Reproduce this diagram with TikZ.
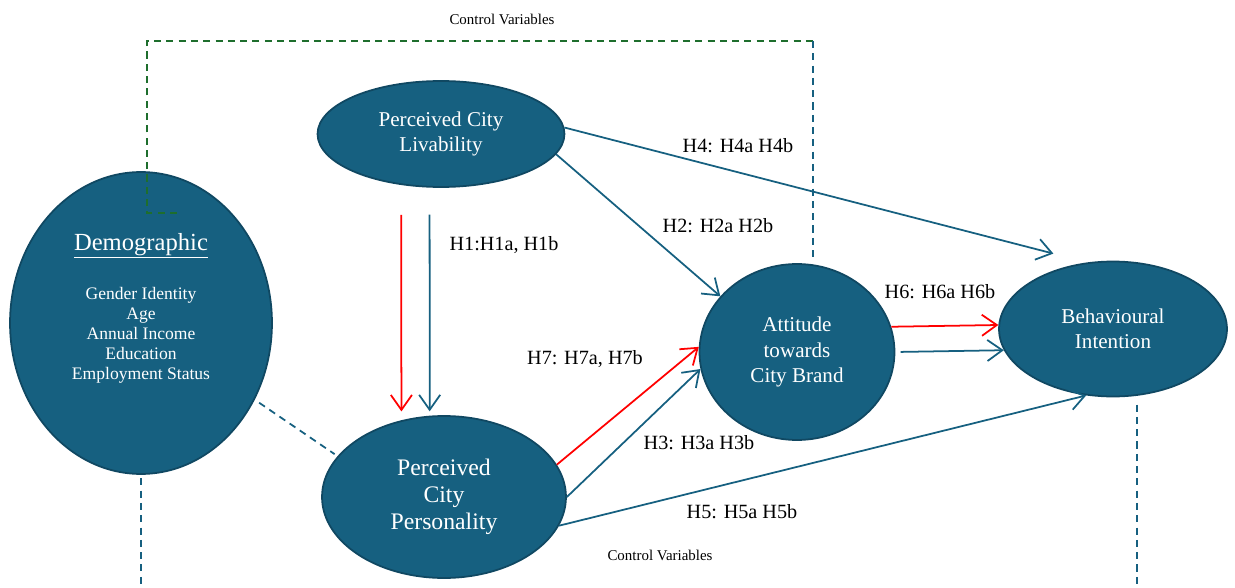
\documentclass[tikz,border=0pt]{standalone}
\usepackage{fontspec}
\setmainfont{Liberation Serif}
\usetikzlibrary{arrows.meta,shapes.geometric}
\definecolor{cityblue}{RGB}{22,96,128}
\definecolor{cityedge}{RGB}{16,72,98}
\definecolor{ctrlgreen}{RGB}{30,110,45}
\tikzset{
    construct/.style={ellipse, fill=cityblue, draw=cityedge, line width=1pt, text=white, align=center, inner sep=0pt, font=\fontsize{12}{14.5}\selectfont},
    hyp/.style={draw=cityblue, line width=1pt, -{Straight Barb[length=8.5pt,width=12pt]}},
    hypr/.style={hyp, draw=red},
    hyplabel/.style={font=\fontsize{11.5}{13}\selectfont},
    ctrllabel/.style={font=\fontsize{8.5}{10}\selectfont},
    dashblue/.style={draw=cityblue, line width=1pt, dash pattern=on 4pt off 3pt},
    dashgreen/.style={dashblue, draw=ctrlgreen}
}
\begin{document}
\begin{tikzpicture}[x=0.02cm, y=-0.02cm]
                \useasboundingbox (0,0) rectangle (1235,588);
                \node[construct, minimum width=4.94cm, minimum height=2.12cm] (liv) at (441,134) {Perceived City\\Livability};
                \node[construct, minimum width=5.24cm, minimum height=6.04cm] (dem) at (141,323) {};
                \node[text=white, align=center, inner sep=0pt, font=\fontsize{10}{11.3}\selectfont] (demtext) at (141,308) {{\fontsize{14}{16}\selectfont\underline{Demographic}}\\[15.4pt] Gender Identity\\Age\\Annual Income\\Education\\Employment Status};
                \node[construct, minimum width=4.88cm, minimum height=3.24cm, font=\fontsize{13.5}{15.5}\selectfont] (per) at (444,497) {Perceived\\City\\Personality};
                \node[construct, minimum width=3.9cm, minimum height=3.52cm] (att) at (797,352) {Attitude\\towards\\City Brand};
                \node[construct, minimum width=4.56cm, minimum height=2.7cm] (beh) at (1113,329) {Behavioural\\Intention};
                \node[ctrllabel] (cvtop) at (502,19) {Control Variables};
                \node[ctrllabel] (cvbot) at (660,555) {Control Variables};
                \coordinate (gstart) at (177,213);
                \coordinate (gcorner) at (147,41);
                \coordinate (gend) at (813,41);
                \coordinate (bend) at (813,258);
                \coordinate (bottom) at (0,588);
                \draw[dashgreen] (gstart) -- (gstart -| gcorner) -- (gcorner) -- (gend);
                \draw[dashblue] (gend) -- (bend);
                \draw[dashblue, shorten <=3pt, shorten >=2pt] (dem.-34) -- (per.159);
                \draw[dashblue, shorten <=2pt] (dem.south) -- (dem.south |- bottom);
                \draw[dashblue, shorten <=5pt] (beh.-70) -- (beh.-70 |- bottom);
                \draw[hypr, shorten <=17pt, shorten >=5pt] (liv.232) -- (per.119);
                \draw[hyp, shorten <=15.4pt, shorten >=2.5pt] (liv.258) -- (per.100);
                \draw[hyp] (liv.-10) -- (att.144);
                \draw[hyp, shorten >=20pt] (liv.3) -- (beh.111);
                \draw[hypr] (per.16) -- (att.177);
                \draw[hyp] (per.0) -- (att.190);
                \draw[hyp] (per.-14) -- (beh.248);
                \draw[hypr] (att.15) -- (beh.178);
                \draw[hyp, shorten <=3pt] (att.0) -- (beh.191);
                \node[hyplabel] (h1) at (504,245) {H1:H1a, H1b};
                \node[hyplabel] (h2) at (718,226) {H2: H2a H2b};
                \node[hyplabel] (h3) at (699,443) {H3: H3a H3b};
                \node[hyplabel] (h4) at (738,146) {H4: H4a H4b};
                \node[hyplabel] (h5) at (742,512) {H5: H5a H5b};
                \node[hyplabel] (h6) at (940,292) {H6: H6a H6b};
                \node[hyplabel] (h7) at (585,359) {H7: H7a, H7b};
\end{tikzpicture}
\end{document}
